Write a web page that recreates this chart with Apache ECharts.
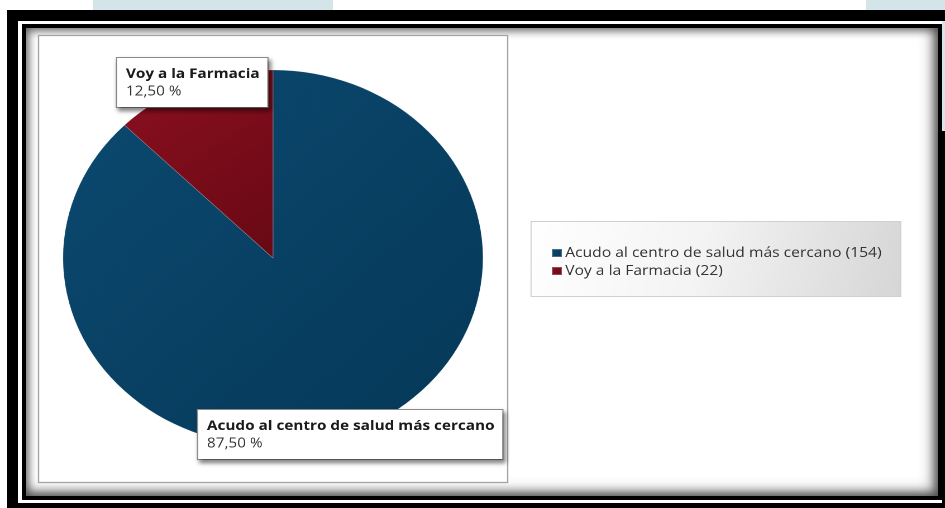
<!DOCTYPE html>
<html>
<head>
<meta charset="utf-8">
<script src="https://cdn.jsdelivr.net/npm/echarts@6/dist/echarts.min.js"></script>
<style>
  html, body { margin: 0; padding: 0; background: #fff; }
  body { width: 945px; height: 508px; position: relative; overflow: hidden; }
  .blk { position: absolute; }
  #tabA { left: 93px; top: 0; width: 240px; height: 24px; background: #d3e5e9; }
  #tabB { left: 866px; top: 0; width: 79px; height: 24px; background: #d3e5e9; }
  #tabC { left: 942px; top: 21px; width: 3px; height: 110px; background: #d3e5e9; }
  #outer { left: 7px; top: 10px; width: 950px; height: 510px; background: #000; }
  #gap { left: 18px; top: 21px; width: 924px; height: 482px; background: #fff; }
  #inner { left: 22px; top: 24px; width: 920px; height: 476px; box-sizing: border-box;
           border: 4px solid #000; background: #fff;
           box-shadow: inset 0 0 9px 3px rgba(0,0,0,0.55), inset -6px -5px 14px rgba(0,0,0,0.35); }
  #chart { position: absolute; left: 0; top: 0; width: 846px; height: 508px;
           transform: scaleX(1.117); transform-origin: 0 0; }
</style>
</head>
<body>
<div class="blk" id="tabA"></div>
<div class="blk" id="tabB"></div>
<div class="blk" id="outer"></div>
<div class="blk" id="tabC"></div>
<div class="blk" id="gap"></div>
<div class="blk" id="inner"></div>
<div id="chart"></div>
<script>
// Survey answers and their counts
const categories = ['Acudo al centro de salud más cercano', 'Voy a la Farmacia'];
const counts = [154, 22];
const sliceColors = [
  ['#0c4a70', '#053858'],
  ['#8c1020', '#680914']
];

// Where each callout box sits (chart pixel space)
const calloutPos = [
  { x: 177.3, y: 410 },
  { x: 104.7, y: 58 }
];

const FONT = '"Open Sans", "Noto Sans", sans-serif';

function fmtPct(p) {
  return p.toFixed(2).replace('.', ',') + ' %';
}

const chart = echarts.init(document.getElementById('chart'), null, { renderer: 'canvas', devicePixelRatio: 2 });

chart.setOption({
  animation: false,
  graphic: [
    {
      type: 'rect', z: 0, silent: true,
      shape: { x: 34.5, y: 35.5, width: 420, height: 447 },
      style: { fill: '#fff', stroke: '#a3a3a3', lineWidth: 1.2 }
    },
    {
      type: 'rect', z: 0, silent: true,
      shape: { x: 475.4, y: 221.5, width: 331, height: 75 },
      style: {
        stroke: '#d0d0d0', lineWidth: 1,
        fill: new echarts.graphic.LinearGradient(0, 0, 1, 1, [
          { offset: 0, color: '#ffffff' },
          { offset: 0.45, color: '#f4f4f4' },
          { offset: 1, color: '#d6d6d6' }
        ])
      }
    }
  ],
  legend: {
    orient: 'vertical',
    left: 493,
    top: 246,
    padding: 0,
    itemWidth: 9,
    itemHeight: 8,
    itemGap: 4,
    icon: 'rect',
    selectedMode: false,
    data: categories,
    formatter: function (name) {
      const i = categories.indexOf(name);
      return name + ' (' + counts[i] + ')';
    },
    textStyle: { fontFamily: FONT, fontSize: 14, color: '#333', lineHeight: 14, padding: [0, 0, 0, -2] }
  },
  series: [{
    type: 'pie',
    center: [244.4, 258],
    radius: 188,
    startAngle: 90,
    clockwise: true,
    silent: true,
    itemStyle: { borderColor: 'rgba(255,255,255,0.25)', borderWidth: 0.6 },
    labelLine: { show: false },
    label: {
      show: true,
      position: 'inside',
      overflow: 'none',
      align: 'left',
      verticalAlign: 'top',
      backgroundColor: '#fff',
      borderColor: '#8c8c8c',
      borderWidth: 1,
      padding: [7, 7, 7, 8],
      shadowColor: 'rgba(0,0,0,0.45)',
      shadowBlur: 4,
      shadowOffsetX: 2,
      shadowOffsetY: 3,
      formatter: function (p) {
        return '{n|' + p.name + '}\n{p|' + fmtPct(p.percent) + '}';
      },
      rich: {
        n: { fontFamily: FONT, fontSize: 13.7, fontWeight: 'bold', color: '#1a1a1a', lineHeight: 18 },
        p: { fontFamily: FONT, fontSize: 13.7, color: '#333', lineHeight: 17 }
      }
    },
    labelLayout: function (params) {
      const pos = calloutPos[params.dataIndex];
      return { x: pos.x, y: pos.y, align: 'left', verticalAlign: 'top' };
    },
    data: categories.map(function (name, i) {
      return {
        name: name,
        value: counts[i],
        itemStyle: {
          color: new echarts.graphic.LinearGradient(0, 0, 1, 1, [
            { offset: 0, color: sliceColors[i][0] },
            { offset: 1, color: sliceColors[i][1] }
          ])
        }
      };
    })
  }]
});
</script>
</body>
</html>
